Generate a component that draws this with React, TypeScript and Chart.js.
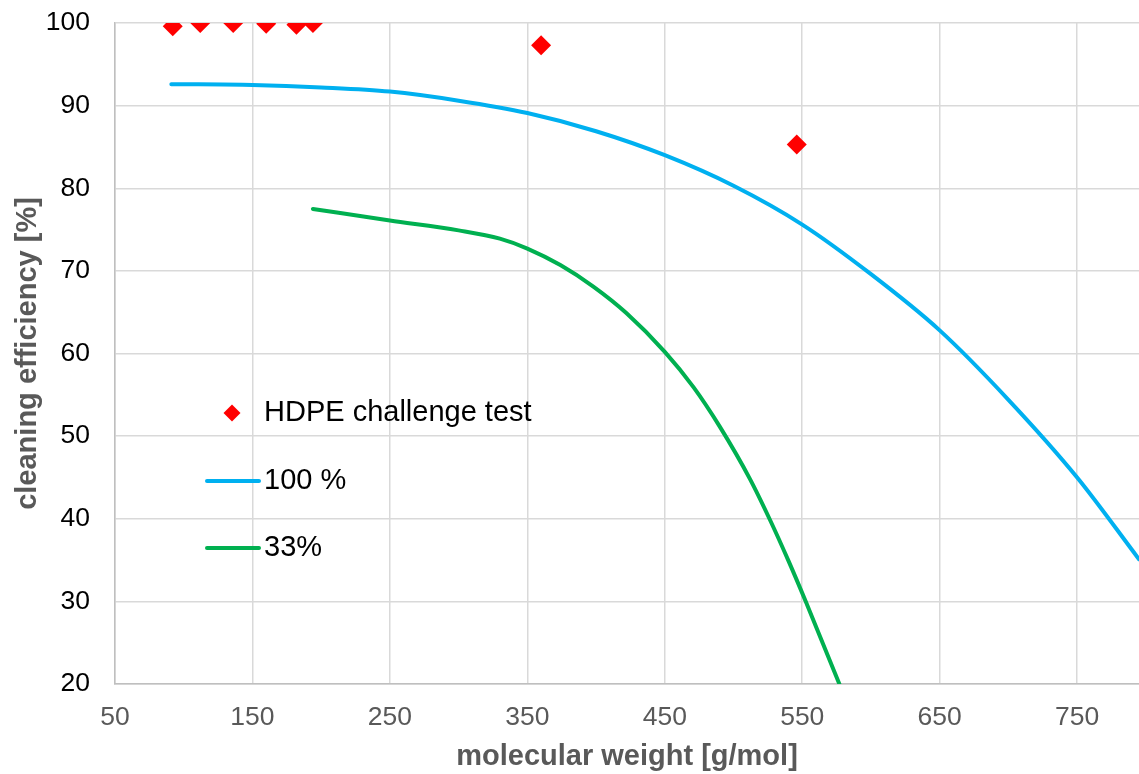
import React, { useEffect, useRef } from "react";
import { Chart, registerables } from "chart.js";

Chart.register(...registerables);

const hdpeX = [92, 112, 136, 160, 182, 194, 360, 546];
const hdpeY = [99.6, 100, 100, 99.9, 99.8, 100, 97.3, 85.3];

const fullX = [91, 150, 200, 250, 300, 350, 400, 450, 500, 550, 600, 650, 700, 750, 795];
const fullY = [92.6, 92.5, 92.2, 91.7, 90.6, 89.1, 86.9, 84.0, 80.3, 75.6, 69.6, 62.8, 54.4, 45.0, 35.1];

const thirdX = [194, 250, 300, 330, 350, 374, 398, 422, 450, 471, 490, 512, 527, 540, 553, 565, 577];
const thirdY = [77.5, 76.1, 74.9, 73.9, 72.7, 70.7, 68.1, 64.9, 60.2, 55.9, 51.15, 44.8, 39.7, 34.9, 29.8, 24.9, 20];

const xTicks = [50, 150, 250, 350, 450, 550, 650, 750];
const yTicks = [20, 30, 40, 50, 60, 70, 80, 90, 100];

const legendLabels = ["HDPE challenge test", "100 %", "33%"];

const FONT = "'Liberation Sans', Arial, sans-serif";

const legendPlugin = {
  id: "insideLegend",
  afterDraw(chart: any) {
    const ctx = chart.ctx;
    ctx.save();
    ctx.font = `29px ${FONT}`;
    ctx.textBaseline = "middle";
    ctx.textAlign = "left";
    const dx = 232, dy = 413, r = 8.5;
    ctx.beginPath();
    ctx.moveTo(dx, dy - r);
    ctx.lineTo(dx + r, dy);
    ctx.lineTo(dx, dy + r);
    ctx.lineTo(dx - r, dy);
    ctx.closePath();
    ctx.fillStyle = "#FF0000";
    ctx.fill();
    ctx.fillStyle = "#000";
    ctx.fillText(legendLabels[0], 264, 413);
    ctx.lineCap = "round";
    ctx.lineWidth = 4;
    ctx.strokeStyle = "#00B0F0";
    ctx.beginPath();
    ctx.moveTo(207, 481);
    ctx.lineTo(259, 481);
    ctx.stroke();
    ctx.fillText(legendLabels[1], 264, 481);
    ctx.strokeStyle = "#00B050";
    ctx.beginPath();
    ctx.moveTo(207, 548);
    ctx.lineTo(259, 548);
    ctx.stroke();
    ctx.fillText(legendLabels[2], 264, 548);
    ctx.restore();
  },
};

export default function App() {
  const ref = useRef<HTMLCanvasElement>(null);
  useEffect(() => {
    if (!ref.current) return;
    const chart = new Chart(ref.current, {
      type: "scatter",
      data: {
        datasets: [
          {
            label: "33%",
            data: thirdX.map((x, i) => ({ x, y: thirdY[i] })),
            showLine: true,
            borderColor: "#00B050",
            borderWidth: 4,
            pointRadius: 0,
            cubicInterpolationMode: "monotone",
            borderCapStyle: "round",
          } as any,
          {
            label: "100 %",
            data: fullX.map((x, i) => ({ x, y: fullY[i] })),
            showLine: true,
            borderColor: "#00B0F0",
            borderWidth: 4,
            pointRadius: 0,
            cubicInterpolationMode: "monotone",
            borderCapStyle: "round",
          } as any,
          {
            label: "HDPE challenge test",
            data: hdpeX.map((x, i) => ({ x, y: hdpeY[i] })),
            pointStyle: "rectRot",
            pointRadius: 10,
            backgroundColor: "#FF0000",
            borderColor: "#FF0000",
            borderWidth: 0,
            showLine: false,
          },
        ],
      },
      options: {
        responsive: false,
        animation: false,
        layout: { padding: { top: 23, right: 0, left: 0, bottom: 0 } },
        plugins: { legend: { display: false }, tooltip: { enabled: false } },
        scales: {
          x: {
            type: "linear",
            min: 50,
            max: 795,
            afterBuildTicks: (s: any) => {
              s.ticks = xTicks.map((v) => ({ value: v }));
            },
            afterFit: (s: any) => {
              s.height = 90;
              s.paddingLeft = 0;
              s.paddingRight = 0;
            },
            grid: { color: "#D9D9D9", lineWidth: 1.5, drawTicks: false },
            border: { color: "#BFBFBF", width: 1.5 },
            ticks: {
              color: "#595959",
              font: { family: FONT, size: 26.5 },
              padding: 18,
              maxRotation: 0,
            },
            title: {
              display: true,
              text: "molecular weight [g/mol]",
              color: "#595959",
              font: { family: FONT, size: 29, weight: "bold" },
              padding: { top: 0, bottom: 0 },
            },
          },
          y: {
            type: "linear",
            min: 20,
            max: 100,
            afterBuildTicks: (s: any) => {
              s.ticks = yTicks.map((v) => ({ value: v }));
            },
            afterFit: (s: any) => {
              s.width = 115;
              s.paddingTop = 0;
              s.paddingBottom = 0;
            },
            grid: { color: "#D9D9D9", lineWidth: 1.5, drawTicks: false },
            border: { color: "#BFBFBF", width: 1.5 },
            ticks: {
              color: "#000000",
              font: { family: FONT, size: 26.5 },
              padding: 25,
            },
            title: {
              display: true,
              text: "cleaning efficiency [%]",
              color: "#595959",
              font: { family: FONT, size: 29, weight: "bold" },
              padding: { top: 11, bottom: 0 },
            },
          },
        },
      },
      plugins: [legendPlugin],
    });
    return () => chart.destroy();
  }, []);
  return (
    <div style={{ position: "fixed", left: 0, top: 0, width: 1139, height: 774, overflow: "hidden", background: "#fff" }}>
      <canvas ref={ref} width={1149} height={774} style={{ display: "block" }} />
    </div>
  );
}
